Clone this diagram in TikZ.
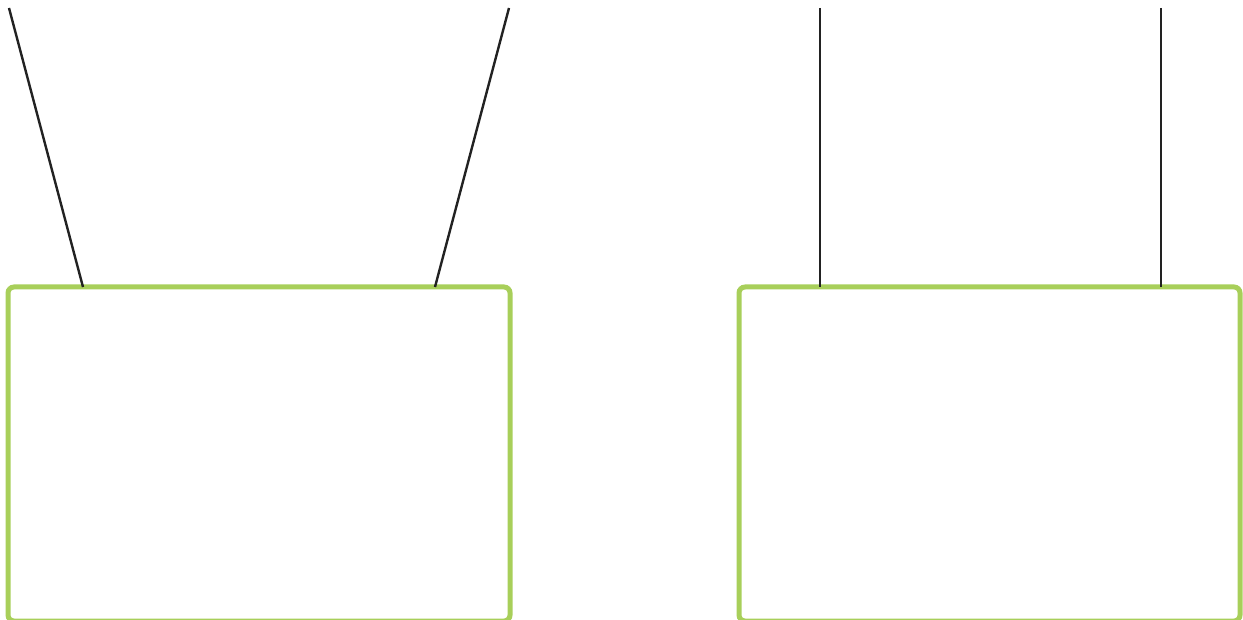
\documentclass[tikz,border=0pt]{standalone}
\usetikzlibrary{calc}
\definecolor{boxgreen}{HTML}{A8CF5A}
\definecolor{wire}{HTML}{222222}
\begin{document}
\begin{tikzpicture}[x=1pt,y=-1pt,
  panel/.style={draw=boxgreen,line width=5pt,rounded corners=6pt,minimum width=502pt,minimum height=334pt,inner sep=0pt,outer sep=0pt,fill=none},
  wireline/.style={draw=wire,line width=2.4pt}]
\useasboundingbox (0,0) rectangle (1243,620);
\begin{scope}
\clip (0,0) rectangle (1243,620);
\node[panel] (L) at (259,454) {};
\node[panel,minimum width=501pt] (R) at (989.5,454) {};
\coordinate (l1) at (9,8);
\coordinate (l2) at (509,8);
\coordinate (r1) at (820,8);
\coordinate (r2) at (1161,8);
\draw[wireline] (l1) -- ($(L.north west)+(75,0)$);
\draw[wireline] (l2) -- ($(L.north west)+(427,0)$);
\draw[wireline] (r1) -- ($(R.north west)+(81,0)$);
\draw[wireline] (r2) -- ($(R.north west)+(422,0)$);
\end{scope}
\end{tikzpicture}
\end{document}
